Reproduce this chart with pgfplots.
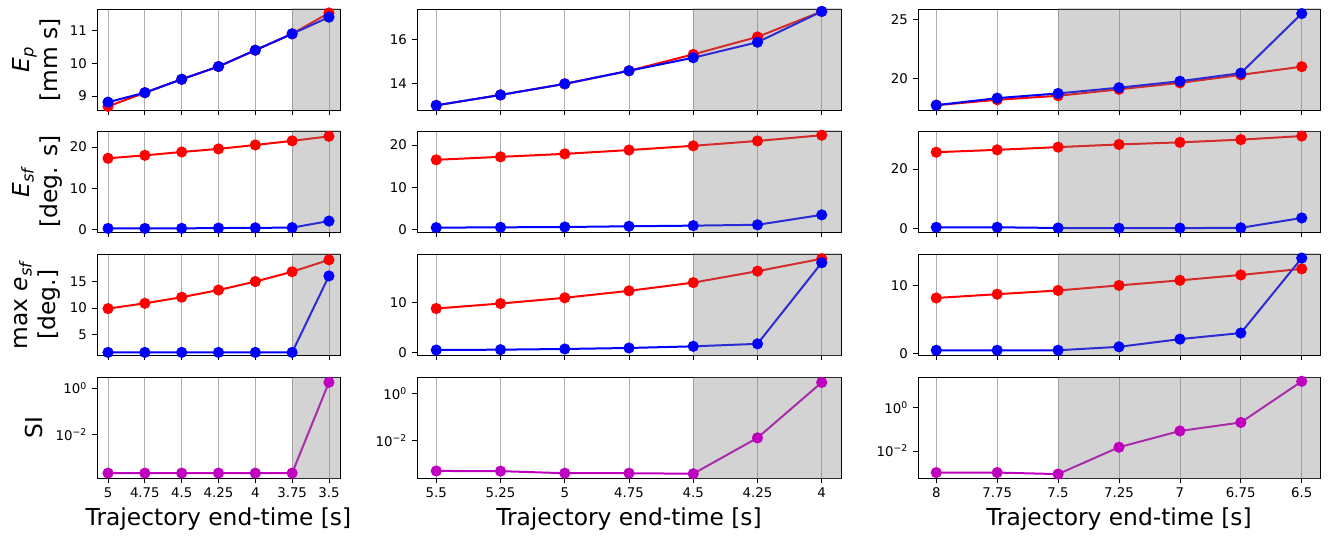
\documentclass[border=0pt]{standalone}
\usepackage{fontspec}
\setmainfont{DejaVu Sans}
\usepackage{pgfplots}
\pgfplotsset{compat=1.18}
\definecolor{mred}{rgb}{1,0,0}
\definecolor{mblue}{rgb}{0,0,1}
\definecolor{mmag}{rgb}{0.75,0,0.75}
\definecolor{gridc}{RGB}{176,176,176}
\definecolor{shadec}{RGB}{128,128,128}
\pgfplotsset{
  sub/.style={scale only axis, height=75.75pt, x dir=reverse,
    axis line style={line width=0.6pt, black},
    tick align=outside, major tick length=4pt,
    xtick pos=left, ytick pos=left,
    xmajorgrids, major grid style={gridc, line width=0.6pt},
    tick style={black, line width=0.6pt},
    ticklabel style={font=\fontsize{10}{12}\selectfont},
    label style={font=\fontsize{17.5}{21}\selectfont},
    minor tick num=0},
  c1/.style={sub, width=182.25pt, xmin=3.425, xmax=5.075, xtick={5,4.75,4.5,4.25,4,3.75,3.5}},
  c2/.style={sub, width=318pt, xmin=3.925, xmax=5.575, xtick={5.5,5.25,5,4.75,4.5,4.25,4}},
  c3/.style={sub, width=301.5pt, xmin=6.425, xmax=8.075, xtick={8,7.75,7.5,7.25,7,6.75,6.5}},
  nolab/.style={xticklabels={,,,,,,}},
  sred/.style={mred, line width=1.5pt, mark=*, mark size=3.4pt, mark options={solid, fill=mred, draw=mred}},
  sblue/.style={mblue, line width=1.5pt, mark=*, mark size=3.4pt, mark options={solid, fill=mblue, draw=mblue}},
  smag/.style={mmag, line width=1.5pt, mark=*, mark size=3.4pt, mark options={solid, fill=mmag, draw=mmag}},
  shd/.style={draw=none, fill=shadec, fill opacity=0.35, forget plot},
  xl/.style={xlabel={Trajectory end-time [s]}},
}
\begin{document}
\begin{tikzpicture}
\useasboundingbox (0,0) rectangle (996pt,402pt);
% ---------------- Column 1 ----------------
\begin{axis}[c1, nolab, at={(72.75pt,319.5pt)}, anchor=south west,
  ymin=8.57, ymax=11.66, ytick={9,10,11}, yticklabels={9,10,11},
  ylabel={\textit{E}\textsubscript{\textit{p}}\\{[mm s]}}, ylabel style={align=center, at={(axis description cs:-0.247,0.5)}, anchor=center}]
\addplot[sred] coordinates {(5,8.68) (4.75,9.1) (4.5,9.51) (4.25,9.9) (4,10.4) (3.75,10.9) (3.5,11.54)};
\addplot[sblue] coordinates {(5,8.81) (4.75,9.1) (4.5,9.51) (4.25,9.9) (4,10.4) (3.75,10.9) (3.5,11.41)};
\addplot[shd] coordinates {(3.75,8) (3.75,12) (3.3,12) (3.3,8) (3.75,8)};
\end{axis}
\begin{axis}[c1, nolab, at={(72.75pt,228pt)}, anchor=south west,
  ymin=-0.66, ymax=23.9, ytick={0,10,20}, yticklabels={0,10,20},
  ylabel={\textit{E}\textsubscript{\textit{sf}}\\{[deg. s]}}, ylabel style={align=center, at={(axis description cs:-0.247,0.5)}, anchor=center}]
\addplot[sred] coordinates {(5,17.26) (4.75,17.98) (4.5,18.8) (4.25,19.55) (4,20.5) (3.75,21.5) (3.5,22.6)};
\addplot[sblue] coordinates {(5,0.2) (4.75,0.2) (4.5,0.22) (4.25,0.3) (4,0.35) (3.75,0.4) (3.5,2.0)};
\addplot[shd] coordinates {(3.75,-2) (3.75,25) (3.3,25) (3.3,-2) (3.75,-2)};
\end{axis}
\begin{axis}[c1, nolab, at={(72.75pt,135.75pt)}, anchor=south west,
  ymin=1.15, ymax=20.2, ytick={5,10,15}, yticklabels={5,10,15},
  ylabel={max \textit{e}\textsubscript{\textit{sf}}\\{[deg.]}}, ylabel style={align=center, at={(axis description cs:-0.247,0.5)}, anchor=center}]
\addplot[sred] coordinates {(5,9.9) (4.75,10.9) (4.5,12.05) (4.25,13.4) (4,15.0) (3.75,16.85) (3.5,19.1)};
\addplot[sblue] coordinates {(5,1.64) (4.75,1.64) (4.5,1.64) (4.25,1.64) (4,1.64) (3.75,1.64) (3.5,16.06)};
\addplot[shd] coordinates {(3.75,0) (3.75,22) (3.3,22) (3.3,0) (3.75,0)};
\end{axis}
\begin{axis}[c1, xl, at={(72.75pt,43.5pt)}, anchor=south west, ymode=log,
  xticklabels={5,4.75,4.5,4.25,4,3.75,3.5},
  ymin=1.29e-4, ymax=3.05, ytick={0.01,1}, yticklabels={10\textsuperscript{−2},10\textsuperscript{0}},
  ylabel={SI}, ylabel style={at={(axis description cs:-0.261,0.5)}, anchor=center}]
\addplot[smag] coordinates {(5,2.1e-4) (4.75,2.1e-4) (4.5,2.1e-4) (4.25,2.1e-4) (4,2.1e-4) (3.75,2.1e-4) (3.5,1.8)};
\addplot[shd] coordinates {(3.75,1e-5) (3.75,10) (3.3,10) (3.3,1e-5) (3.75,1e-5)};
\end{axis}
% ---------------- Column 2 ----------------
\begin{axis}[c2, nolab, at={(312.75pt,319.5pt)}, anchor=south west,
  ymin=12.82, ymax=17.38, ytick={14,16}, yticklabels={14,16}]
\addplot[sred] coordinates {(5.5,13.03) (5.25,13.5) (5,14.0) (4.75,14.59) (4.5,15.33) (4.25,16.12) (4,17.27)};
\addplot[sblue] coordinates {(5.5,13.03) (5.25,13.5) (5,14.0) (4.75,14.59) (4.5,15.18) (4.25,15.88) (4,17.27)};
\addplot[shd] coordinates {(4.5,12) (4.5,18) (3.8,18) (3.8,12) (4.5,12)};
\end{axis}
\begin{axis}[c2, nolab, at={(312.75pt,228pt)}, anchor=south west,
  ymin=-0.55, ymax=23.3, ytick={0,10,20}, yticklabels={0,10,20}]
\addplot[sred] coordinates {(5.5,16.5) (5.25,17.2) (5,17.9) (4.75,18.8) (4.5,19.8) (4.25,20.95) (4,22.3)};
\addplot[sblue] coordinates {(5.5,0.48) (5.25,0.55) (5,0.63) (4.75,0.8) (4.5,0.95) (4.25,1.15) (4,3.5)};
\addplot[shd] coordinates {(4.5,-2) (4.5,25) (3.8,25) (3.8,-2) (4.5,-2)};
\end{axis}
\begin{axis}[c2, nolab, at={(312.75pt,135.75pt)}, anchor=south west,
  ymin=-0.54, ymax=19.75, ytick={0,10}, yticklabels={0,10}]
\addplot[sred] coordinates {(5.5,8.8) (5.25,9.8) (5,10.95) (4.75,12.35) (4.5,14.0) (4.25,16.3) (4,18.8)};
\addplot[sblue] coordinates {(5.5,0.46) (5.25,0.53) (5,0.67) (4.75,0.87) (4.5,1.2) (4.25,1.7) (4,18.0)};
\addplot[shd] coordinates {(4.5,-2) (4.5,21) (3.8,21) (3.8,-2) (4.5,-2)};
\end{axis}
\begin{axis}[c2, xl, at={(312.75pt,43.5pt)}, anchor=south west, ymode=log,
  xticklabels={5.5,5.25,5,4.75,4.5,4.25,4},
  ymin=2.5e-4, ymax=5.1, ytick={0.01,1}, yticklabels={10\textsuperscript{−2},10\textsuperscript{0}}]
\addplot[smag] coordinates {(5.5,5.0e-4) (5.25,4.9e-4) (5,4.0e-4) (4.75,4.0e-4) (4.5,3.8e-4) (4.25,0.0129) (4,3.0)};
\addplot[shd] coordinates {(4.5,1e-5) (4.5,20) (3.8,20) (3.8,1e-5) (4.5,1e-5)};
\end{axis}
% ---------------- Column 3 ----------------
\begin{axis}[c3, nolab, at={(688.5pt,319.5pt)}, anchor=south west,
  ymin=17.29, ymax=25.89, ytick={20,25}, yticklabels={20,25}]
\addplot[sred] coordinates {(8,17.7) (7.75,18.16) (7.5,18.5) (7.25,19.05) (7,19.6) (6.75,20.28) (6.5,20.98)};
\addplot[sblue] coordinates {(8,17.7) (7.75,18.3) (7.5,18.7) (7.25,19.19) (7,19.74) (6.75,20.43) (6.5,25.5)};
\addplot[shd] coordinates {(7.5,16) (7.5,27) (6.3,27) (6.3,16) (7.5,16)};
\end{axis}
\begin{axis}[c3, nolab, at={(688.5pt,228pt)}, anchor=south west,
  ymin=-1.1, ymax=32.7, ytick={0,20}, yticklabels={0,20}]
\addplot[sred] coordinates {(8,25.6) (7.75,26.4) (7.5,27.3) (7.25,28.2) (7,28.9) (6.75,29.8) (6.5,31.0)};
\addplot[sblue] coordinates {(8,0.47) (7.75,0.47) (7.5,0.25) (7.25,0.15) (7,0.2) (6.75,0.3) (6.5,3.6)};
\addplot[shd] coordinates {(7.5,-3) (7.5,35) (6.3,35) (6.3,-3) (7.5,-3)};
\end{axis}
\begin{axis}[c3, nolab, at={(688.5pt,135.75pt)}, anchor=south west,
  ymin=-0.25, ymax=14.7, ytick={0,10}, yticklabels={0,10}]
\addplot[sred] coordinates {(8,8.19) (7.75,8.75) (7.5,9.3) (7.25,10.05) (7,10.8) (6.75,11.6) (6.5,12.5)};
\addplot[sblue] coordinates {(8,0.45) (7.75,0.45) (7.5,0.45) (7.25,0.96) (7,2.1) (6.75,3.0) (6.5,14.1)};
\addplot[shd] coordinates {(7.5,-2) (7.5,16) (6.3,16) (6.3,-2) (7.5,-2)};
\end{axis}
\begin{axis}[c3, xl, at={(688.5pt,43.5pt)}, anchor=south west, ymode=log,
  xticklabels={8,7.75,7.5,7.25,7,6.75,6.5},
  ymin=5.6e-4, ymax=27, ytick={0.01,1}, yticklabels={10\textsuperscript{−2},10\textsuperscript{0}}]
\addplot[smag] coordinates {(8,1.0e-3) (7.75,1.0e-3) (7.5,8.5e-4) (7.25,0.015) (7,0.085) (6.75,0.21) (6.5,17)};
\addplot[shd] coordinates {(7.5,1e-5) (7.5,100) (6.3,100) (6.3,1e-5) (7.5,1e-5)};
\end{axis}
\end{tikzpicture}
\end{document}
